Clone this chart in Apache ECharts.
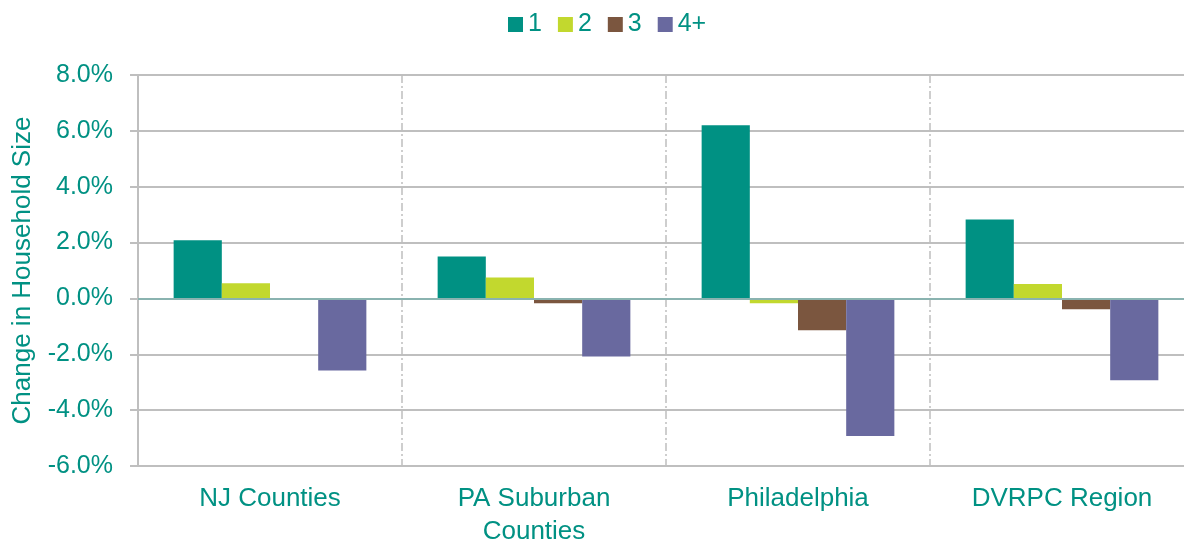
<!DOCTYPE html>
<html>
<head>
    <meta charset="utf-8">
    <title>Change in Household Size</title>
    <script src="https://cdn.jsdelivr.net/npm/echarts@6/dist/echarts.min.js"></script>
    <style>
        html, body { margin: 0; padding: 0; background: #fff; }
        #main { width: 1184px; height: 540px; }
    </style>
</head>
<body>
<div id="main"></div>
<script>
    // data (percent)
    var categories = ['NJ Counties', 'PA Suburban\nCounties', 'Philadelphia', 'DVRPC Region'];
    var sizeNames = ['1', '2', '3', '4+'];
    var size1 = [2.08, 1.50, 6.20, 2.83];
    var size2 = [0.54, 0.75, -0.17, 0.52];
    var size3 = [-0.05, -0.17, -1.14, -0.39];
    var size4 = [-2.58, -2.08, -4.93, -2.93];
    var colors = ['#009183', '#c2d82e', '#7b563f', '#69699f'];

    var teal = '#009183';
    var font = 'Liberation Sans';

    var chart = echarts.init(document.getElementById('main'));

    var allValues = [size1, size2, size3, size4];
    var series = [];
    for (var i = 0; i < sizeNames.length; i++) {
        series.push({
            name: sizeNames[i],
            type: 'bar',
            data: allValues[i],
            barGap: '0%',
            barCategoryGap: '27%',
            itemStyle: {color: colors[i]}
        });
    }
    // zero line
    series[0].markLine = {
        silent: true,
        symbol: 'none',
        label: {show: false},
        lineStyle: {color: '#8ab3b0', width: 2, type: 'solid'},
        data: [{yAxis: 0}]
    };

    chart.setOption({
        animation: false,
        color: colors,
        textStyle: {fontFamily: font},
        legend: {
            top: 7,
            left: 503,
            icon: 'rect',
            itemWidth: 15,
            itemHeight: 15,
            itemGap: 16,
            textStyle: {color: teal, fontSize: 25, fontFamily: font},
            data: sizeNames
        },
        grid: {
            left: 138,
            right: -10,
            top: 75,
            bottom: 74,
            outerBoundsMode: 'none',
            containLabel: false
        },
        xAxis: {
            type: 'category',
            data: categories,
            axisLine: {show: true, onZero: false, lineStyle: {color: '#bfbfbf', width: 2}},
            axisTick: {show: false},
            splitLine: {
                show: true,
                lineStyle: {color: '#bfbfbf', width: 1.5, type: [8, 3, 2, 3]}
            },
            axisLabel: {
                color: teal,
                fontSize: 26,
                fontFamily: font,
                margin: 16,
                lineHeight: 33
            }
        },
        yAxis: {
            type: 'value',
            min: -6,
            max: 8,
            interval: 2,
            name: 'Change in Household Size',
            nameLocation: 'middle',
            nameGap: 102,
            nameTextStyle: {color: teal, fontSize: 26, fontFamily: font},
            axisLine: {show: true, lineStyle: {color: '#bfbfbf', width: 2}},
            axisTick: {show: true, length: 8, lineStyle: {color: '#bfbfbf', width: 2}},
            splitLine: {show: true, lineStyle: {color: '#bfbfbf', width: 2}},
            axisLabel: {
                color: teal,
                fontSize: 25,
                fontFamily: font,
                margin: 25,
                formatter: function (v) { return v.toFixed(1) + '%'; }
            }
        },
        series: series
    });
</script>
</body>
</html>
